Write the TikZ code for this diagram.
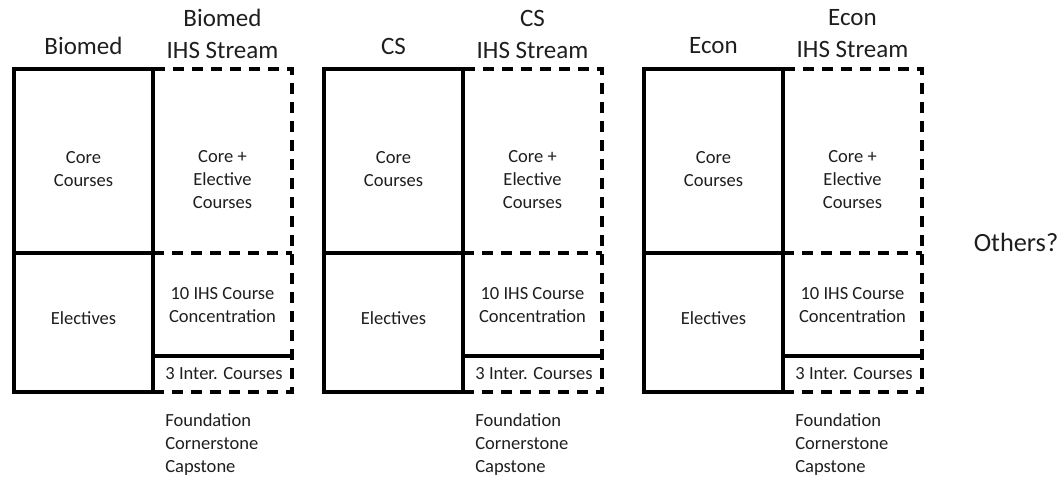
\documentclass[tikz,border=0pt]{standalone}
\usepackage{fontspec}
\setmainfont{Carlito}
\usepackage{xcolor}
\usepackage{tikz}
\definecolor{ink}{HTML}{1E1E1E}
\tikzset{
  wall/.style={line width=3pt, draw=black},
  stream/.style={line width=3pt, draw=black, dash pattern=on 8.25pt off 6pt},
  head/.style={text=ink, font=\fontsize{18.75}{24}\selectfont, align=center, inner sep=0pt},
  lab/.style={text=ink, font=\fontsize{13.9}{17.25}\selectfont, align=center, inner sep=0pt},
  labl/.style={text=ink, font=\fontsize{13.9}{17.25}\selectfont, align=left, inner sep=0pt, anchor=north west}
}

\begin{document}
\begin{tikzpicture}[x=0.75pt, y=-0.75pt]
  \useasboundingbox (0,0) rectangle (1062,476);

  \foreach \prog/\dx in {Biomed/0, CS/310, Econ/630} {
    \begin{scope}[shift={(\dx,0)}]
      % IHS stream side
      \draw[stream] (153,69) rectangle (292,392);
      \draw[stream] (153,253) -- (292,253);
      % degree side
      \draw[wall] (14,69) rectangle (153,392);
      \draw[wall] (14,253) -- (153,253);
      \draw[wall] (153,356) -- (292,356);

      \node[head] (deg-\prog) at (83.5,46) {\prog};
      \node[head] (ihs-\prog) at (222.5,34) {\prog\\IHS Stream};

      \node[lab] (core-\prog) at (83.5,169) {Core\\Courses};
      \node[lab] (elec-\prog) at (83.5,318) {Electives};
      \node[lab] (mix-\prog) at (222.5,180) {Core +\\Elective\\Courses};
      \node[lab] (conc-\prog) at (222.5,305.5) {10 IHS Course\\Concentration};
      \node[lab] (inter-\prog) at (224,374) {3 Inter. Courses};
      \node[labl] (seq-\prog) at (165,413) {Foundation\\Cornerstone\\Capstone};
    \end{scope}
  }

  \node[head, font=\fontsize{19.75}{24}\selectfont] (others) at (1016,242.5) {Others?};
\end{tikzpicture}
\end{document}
